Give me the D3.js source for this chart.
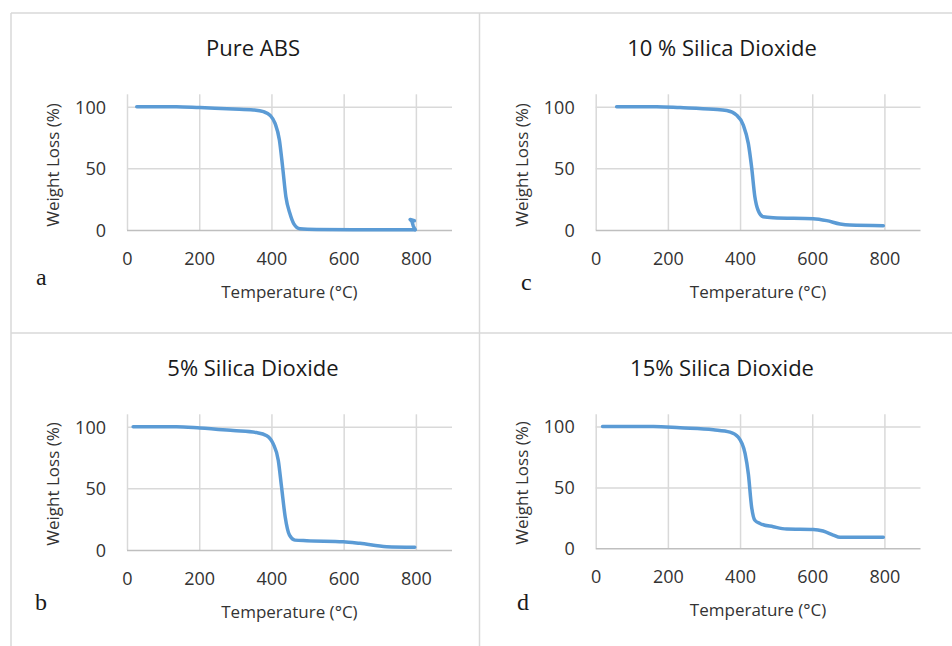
<!DOCTYPE html>
<html>
<head>
<meta charset="utf-8">
<script src="https://cdn.jsdelivr.net/npm/d3@7"></script>
<style>
    body { margin: 0; background: #fff; }
    svg { display: block; }
    .tick text { font-family: "Open Sans", sans-serif; font-size: 18px; fill: #333; }
    .title { font-family: "Open Sans", sans-serif; font-size: 22px; fill: #1a1a1a; }
    .axis-title { font-family: "Open Sans", sans-serif; font-size: 17px; fill: #333; }
    .letter { font-family: "Liberation Serif", serif; font-size: 24px; fill: #1a1a1a; }
</style>
</head>
<body>
<div id="chart"></div>
<script>
// axis ticks
const xTicks = [0, 200, 400, 600, 800];
const yTicks = [0, 50, 100];

// Pure ABS (the last points are the small hook drawn back near 800 °C)
const pureTemp   = [27, 137, 202, 294, 350, 378, 396, 410, 422, 431, 440, 451, 462, 479, 525, 664, 798, 793, 789, 784, 796];
const pureWeight = [100, 100, 99.2, 98.1, 97.3, 95.9, 93, 86.5, 73, 51, 27, 13.5, 5, 1, 0.5, 0.2, 0.2, 3, 7, 8.5, 7.5];

// 5% Silica Dioxide
const silica5Temp   = [17, 137, 202, 294, 359, 387, 405, 419, 428, 438, 450, 465, 498, 599, 645, 719, 797];
const silica5Weight = [100, 100, 98.9, 96.8, 95.2, 92.7, 86, 72.6, 51, 27, 12, 8, 7.5, 6.7, 5.4, 2.7, 2.2];

// 10 % Silica Dioxide
const silica10Temp   = [58, 169, 234, 326, 363, 390, 409, 423, 432, 441, 450, 464, 492, 603, 640, 677, 704, 797];
const silica10Weight = [100, 100, 99.2, 97.8, 96.8, 93.2, 85, 70, 51, 27, 16, 10.8, 10, 9.2, 7.6, 4.9, 4, 3.5];

// 15% Silica Dioxide
const silica15Temp   = [19, 160, 234, 326, 372, 395, 414, 423, 432, 441, 455, 492, 529, 603, 630, 658, 677, 797];
const silica15Weight = [100, 100, 98.9, 97.3, 95.4, 91.3, 77.7, 61, 34, 23, 20.4, 17.7, 15.8, 15.5, 14.2, 10.9, 9, 9];

const panels = [
    { title: 'Pure ABS', letter: 'a', temp: pureTemp, weight: pureWeight,
      x0: 127, x1: 452, y0: 230, y1: 94.3, titleX: 253, titleY: 56, letterX: 36, letterY: 285, yTitleY: 165 },
    { title: '10 % Silica Dioxide', letter: 'c', temp: silica10Temp, weight: silica10Weight,
      x0: 595.7, x1: 920.5, y0: 230, y1: 94.3, titleX: 722, titleY: 56, letterX: 521, letterY: 290, yTitleY: 165 },
    { title: '5% Silica Dioxide', letter: 'b', temp: silica5Temp, weight: silica5Weight,
      x0: 127, x1: 452, y0: 550, y1: 414.3, titleX: 253, titleY: 376, letterX: 35, letterY: 610, yTitleY: 484 },
    { title: '15% Silica Dioxide', letter: 'd', temp: silica15Temp, weight: silica15Weight,
      x0: 595.7, x1: 920.5, y0: 548.3, y1: 414.3, titleX: 722, titleY: 376, letterX: 517, letterY: 610, yTitleY: 483 }
];

const width = 952, height = 646;
const svg = d3.select('#chart').append('svg')
    .attr('width', width)
    .attr('height', height);

// panel frame lines
const frame = svg.append('g')
    .attr('stroke', '#d9d9d9')
    .attr('stroke-width', 1.5);
frame.append('line').attr('x1', 11).attr('x2', width).attr('y1', 13).attr('y2', 13);
frame.append('line').attr('x1', 11).attr('x2', 11).attr('y1', 13).attr('y2', height);
frame.append('line').attr('x1', 479.5).attr('x2', 479.5).attr('y1', 13).attr('y2', height);
frame.append('line').attr('x1', 11).attr('x2', width).attr('y1', 333).attr('y2', 333);

panels.forEach(p => {
    const x = d3.scaleLinear().domain([0, 900]).range([p.x0, p.x1]);
    const y = d3.scaleLinear().domain([0, 110]).range([p.y0, p.y1]);
    const g = svg.append('g');

    // vertical grid
    g.append('g')
        .attr('transform', `translate(0,${p.y0})`)
        .call(d3.axisBottom(x).tickValues(xTicks).tickSize(-(p.y0 - p.y1)).tickFormat(''))
        .call(s => s.select('.domain').remove())
        .call(s => s.selectAll('line').attr('stroke', '#d9d9d9').attr('stroke-width', 1.5));

    // horizontal grid + y labels
    g.append('g')
        .attr('transform', `translate(${p.x0},0)`)
        .call(d3.axisLeft(y).tickValues(yTicks).tickSize(-(p.x1 - p.x0)))
        .call(s => s.select('.domain').remove())
        .call(s => s.selectAll('line').attr('stroke', d => d === 0 ? '#bfbfbf' : '#d9d9d9').attr('stroke-width', 1.5))
        .call(s => s.selectAll('text').attr('x', -21).attr('dy', '0.36em'));

    // x labels
    g.append('g')
        .attr('transform', `translate(0,${p.y0})`)
        .call(d3.axisBottom(x).tickValues(xTicks).tickSize(0).tickPadding(22))
        .call(s => s.select('.domain').remove());

    // split where temperature runs backwards (pure ABS hook)
    const pts = p.temp.map((t, i) => [t, p.weight[i]]);
    let k = pts.findIndex((d, i) => i > 0 && d[0] < pts[i - 1][0]);
    if (k < 0) k = pts.length;
    const parts = [
        { data: pts.slice(0, k), curve: d3.curveMonotoneX },
        { data: pts.slice(k - 1), curve: d3.curveLinear }
    ];

    parts.filter(part => part.data.length > 1).forEach(part => {
        const line = d3.line()
            .x(d => x(d[0]))
            .y(d => y(d[1]))
            .curve(part.curve);

        g.append('path')
            .datum(part.data)
            .attr('fill', 'none')
            .attr('stroke', '#5b9bd5')
            .attr('stroke-width', 3.5)
            .attr('stroke-linejoin', 'round')
            .attr('stroke-linecap', 'round')
            .attr('d', line);
    });

    g.append('text')
        .attr('class', 'title')
        .attr('x', p.titleX)
        .attr('y', p.titleY)
        .attr('text-anchor', 'middle')
        .text(p.title);

    g.append('text')
        .attr('class', 'axis-title')
        .attr('x', (p.x0 + x(800)) / 2 + 18)
        .attr('y', p.y0 + 68)
        .attr('text-anchor', 'middle')
        .text('Temperature (°C)');

    g.append('text')
        .attr('class', 'axis-title')
        .attr('transform', `translate(${p.x0 - 68},${p.yTitleY}) rotate(-90)`)
        .attr('text-anchor', 'middle')
        .text('Weight Loss (%)');

    g.append('text')
        .attr('class', 'letter')
        .attr('x', p.letterX)
        .attr('y', p.letterY)
        .text(p.letter);
});
</script>
</body>
</html>
